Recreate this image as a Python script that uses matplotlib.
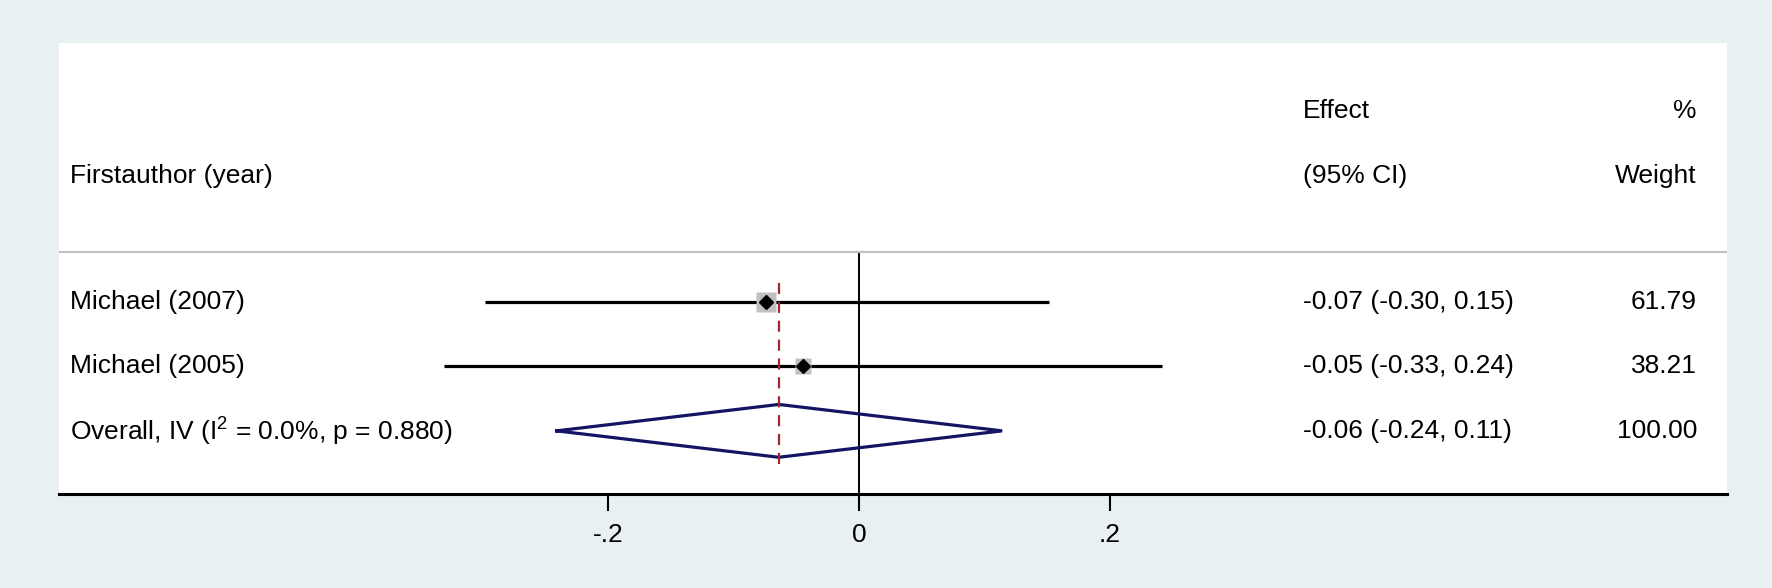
import numpy as np
import matplotlib
matplotlib.use("Agg")
import matplotlib.pyplot as plt
import matplotlib.transforms as mtransforms

plt.rcParams['font.family'] = ['Liberation Sans', 'DejaVu Sans']
plt.rcParams['mathtext.fontset'] = 'custom'
plt.rcParams['mathtext.rm'] = 'Liberation Sans'

# study data (effect estimate with 95% CI, weight in %)
studies = ["Michael (2007)", "Michael (2005)"]
effects = [-0.074, -0.045]
ci_low = [-0.298, -0.331]
ci_high = [0.151, 0.241]
weights = [61.79, 38.21]
effect_labels = ["-0.07 (-0.30, 0.15)", "-0.05 (-0.33, 0.24)"]
weight_labels = ["61.79", "38.21"]

overall_label = r"Overall, IV (I$^{\mathregular{2}}$ = 0.0%, p = 0.880)"
overall_effect = -0.064
overall_low = -0.241
overall_high = 0.114
overall_effect_label = "-0.06 (-0.24, 0.11)"
overall_weight_label = "100.00"

xticks = [-0.2, 0.0, 0.2]
xtick_labels = ["-.2", "0", ".2"]

bg = "#e8f0f2"
fs = 19

fig = plt.figure(figsize=(17.72, 5.88), dpi=100, facecolor=bg)
ax = fig.add_axes([59 / 1772, 94 / 588, 1668 / 1772, 451 / 588])
ax.set_facecolor("white")
ax.set_xlim(-0.6375, 0.6916)
ax.set_ylim(0.02, 7.02)

rows = [3, 2]
overall_row = 1
trans = mtransforms.blended_transform_factory(ax.transAxes, ax.transData)

# header
ax.text(0.0066, 4.95, "Firstauthor (year)", transform=trans, fontsize=fs, va="center", ha="left")
ax.text(0.7458, 5.96, "Effect", transform=trans, fontsize=fs, va="center", ha="left")
ax.text(0.7458, 4.95, "(95% CI)", transform=trans, fontsize=fs, va="center", ha="left")
ax.text(0.982, 5.96, "%", transform=trans, fontsize=fs, va="center", ha="right")
ax.text(0.982, 4.95, "Weight", transform=trans, fontsize=fs, va="center", ha="right")
ax.axhline(3.77, color="#c0c0c0", lw=1.6)

# null line and overall line
ax.plot([0, 0], [0, 3.77], color="black", lw=1.4, zorder=1)
ax.plot([overall_effect, overall_effect], [0.48, 3.37], color="#a0282d", lw=1.6,
        dashes=(5, 3.5), zorder=4)

# studies
for y, name, e, lo, hi, w, el, wl in zip(rows, studies, effects, ci_low, ci_high,
                                          weights, effect_labels, weight_labels):
    ax.plot([lo, hi], [y, y], color="black", lw=2.3, zorder=2, solid_capstyle="butt")
    ax.plot(e, y, marker="s", ms=1.9 * np.sqrt(w), color="#c0c0c0", mec="none", zorder=3)
    ax.plot(e, y, marker="D", ms=7, color="black", zorder=5)
    ax.text(0.0066, y, name, transform=trans, fontsize=fs, va="center", ha="left")
    ax.text(0.7458, y, el, transform=trans, fontsize=fs, va="center", ha="left")
    ax.text(0.982, y, wl, transform=trans, fontsize=fs, va="center", ha="right")

# overall diamond
dx = [overall_low, overall_effect, overall_high, overall_effect, overall_low]
dy = [overall_row, overall_row + 0.41, overall_row, overall_row - 0.41, overall_row]
ax.plot(dx, dy, color="#141464", lw=2.3, zorder=3, solid_joinstyle="miter")
ax.text(0.0066, overall_row, overall_label, transform=trans, fontsize=fs, va="center", ha="left")
ax.text(0.7458, overall_row, overall_effect_label, transform=trans, fontsize=fs, va="center", ha="left")
ax.text(0.982, overall_row, overall_weight_label, transform=trans, fontsize=fs, va="center", ha="right")

# axes styling
for side in ["top", "left", "right"]:
    ax.spines[side].set_visible(False)
ax.spines["bottom"].set_linewidth(2.2)
ax.set_yticks([])
ax.set_xticks(xticks)
ax.set_xticklabels(xtick_labels, fontsize=fs)
ax.tick_params(axis="x", length=12, width=1.5, pad=9)

fig.savefig("out.png", dpi=100, facecolor=bg)
